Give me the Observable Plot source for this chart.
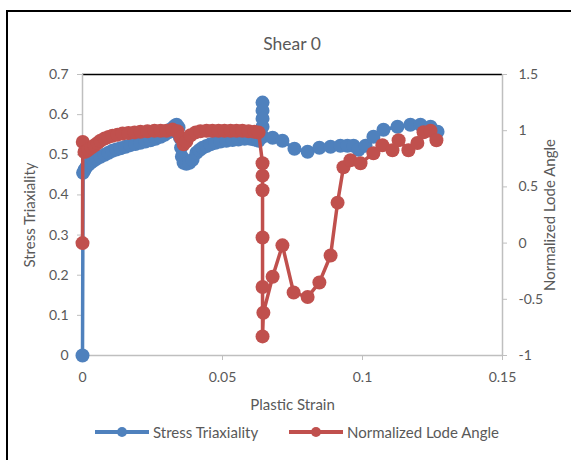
<!DOCTYPE html>
<html>
<head>
<meta charset="utf-8">
<script src="https://cdn.jsdelivr.net/npm/d3@7"></script>
<script src="https://cdn.jsdelivr.net/npm/@observablehq/plot@0.6"></script>
<style>
  html, body { margin: 0; padding: 0; background: #fff; overflow: hidden; }
  #chart { position: relative; width: 571px; height: 460px; font-family: Lato, "Open Sans", sans-serif; color: #595959; overflow: hidden; }
  #frame { position: absolute; left: 6px; top: 10px; width: 620px; height: 520px; border-left: 2px solid #000; border-top: 2px solid #000; }
  #plot { position: absolute; left: 0; top: 0; }
  #plot g[aria-label$="axis label"] text { font-size: 15px; }
  #title { position: absolute; left: 0; width: 584px; top: 33px; text-align: center; font-size: 17.5px; }
  .item { position: absolute; top: 424px; height: 16px; display: flex; align-items: center; font-size: 15px; white-space: nowrap; }
  .item svg { margin-right: 4px; }
</style>
</head>
<body>
<div id="chart">
  <div id="frame"></div>
  <div id="plot"></div>
  <div id="title">Shear 0</div>
  <div id="legend"></div>
</div>
<script>
// Stress triaxiality against plastic strain
const triaxStrain = [0, 0.0002, 0.0007, 0.0014, 0.0021, 0.0029, 0.0039, 0.005, 0.0064, 0.0079, 0.0093, 0.0107, 0.0121, 0.0136, 0.0154, 0.0171, 0.0189, 0.0207, 0.0225, 0.0243, 0.0261, 0.0279, 0.0293, 0.0307, 0.0318, 0.0329, 0.0336, 0.0343, 0.0348, 0.0352, 0.0355, 0.0361, 0.0371, 0.0382, 0.0393, 0.0407, 0.0418, 0.0429, 0.0443, 0.0457, 0.0475, 0.0493, 0.0514, 0.0536, 0.0557, 0.0579, 0.06, 0.0614, 0.0629, 0.0643, 0.0643, 0.0643, 0.0643, 0.0644, 0.0679, 0.0714, 0.0757, 0.0804, 0.0846, 0.0886, 0.0921, 0.0946, 0.0968, 0.0986, 0.1011, 0.1039, 0.1075, 0.1125, 0.1171, 0.1207, 0.1243, 0.1268];
const triaxValues = [0, 0.455, 0.462, 0.47, 0.475, 0.48, 0.485, 0.49, 0.495, 0.5, 0.505, 0.51, 0.513, 0.516, 0.52, 0.524, 0.527, 0.53, 0.533, 0.536, 0.54, 0.545, 0.55, 0.556, 0.565, 0.572, 0.575, 0.568, 0.5425, 0.5175, 0.495, 0.48, 0.4775, 0.48, 0.4875, 0.505, 0.512, 0.5175, 0.522, 0.526, 0.53, 0.533, 0.535, 0.537, 0.538, 0.54, 0.54, 0.538, 0.535, 0.63, 0.61, 0.59, 0.57, 0.545, 0.5425, 0.535, 0.515, 0.5075, 0.5175, 0.52, 0.5225, 0.5225, 0.5225, 0.5125, 0.5225, 0.545, 0.5625, 0.57, 0.575, 0.575, 0.57, 0.5575];

// Normalized Lode angle against plastic strain
const lodeStrain = [0, 0.0001, 0.0007, 0.0014, 0.0021, 0.0032, 0.0043, 0.0054, 0.0064, 0.0079, 0.0093, 0.0107, 0.0125, 0.0143, 0.0164, 0.0186, 0.0207, 0.0232, 0.0257, 0.0279, 0.03, 0.0321, 0.0339, 0.035, 0.0361, 0.0371, 0.0386, 0.0404, 0.0421, 0.0443, 0.0464, 0.0486, 0.0507, 0.0529, 0.055, 0.0571, 0.0593, 0.0614, 0.0629, 0.0643, 0.0643, 0.0643, 0.0643, 0.0643, 0.0643, 0.0646, 0.0679, 0.0714, 0.0754, 0.0804, 0.0846, 0.0886, 0.0911, 0.0932, 0.0957, 0.0993, 0.1039, 0.1071, 0.1107, 0.1129, 0.1164, 0.1196, 0.1218, 0.1243, 0.1264];
const lodeValues = [0, 0.9, 0.81, 0.82, 0.83, 0.85, 0.87, 0.89, 0.91, 0.93, 0.945, 0.955, 0.965, 0.975, 0.98, 0.985, 0.99, 0.995, 1.0, 1.0, 1.0, 1.01, 0.995, 0.94, 0.88, 0.905, 0.96, 0.985, 0.995, 1.0, 1.0, 1.0, 1.0, 1.0, 1.0, 1.0, 0.995, 0.99, 0.985, 0.71, 0.6, 0.47, 0.05, -0.39, -0.83, -0.62, -0.30, -0.02, -0.44, -0.48, -0.35, -0.11, 0.36, 0.675, 0.737, 0.71, 0.80, 0.87, 0.826, 0.915, 0.826, 0.89, 0.986, 1.0, 0.915];

// Axis ticks
const strainTicks = [0, 0.05, 0.1, 0.15];
const triaxTicks = [0, 0.1, 0.2, 0.3, 0.4, 0.5, 0.6, 0.7];
const lodeTicks = [-1, -0.5, 0, 0.5, 1, 1.5];

const seriesNames = ["Stress Triaxiality", "Normalized Lode Angle"];
const seriesColors = ["#4f81bd", "#c0504d"];

// Lode angle shares the left scale through a linear map of the secondary axis
const tMin = triaxTicks[0], tMax = triaxTicks[triaxTicks.length - 1];
const lMin = lodeTicks[0], lMax = lodeTicks[lodeTicks.length - 1];
const toLeft = v => tMin + (v - lMin) * (tMax - tMin) / (lMax - lMin);
const fromLeft = y => lMin + (y - tMin) * (lMax - lMin) / (tMax - tMin);
const fmt = v => String(Math.round(v * 100) / 100);

const triax = triaxStrain.map((x, i) => ({x, y: triaxValues[i]}));
const lode = lodeStrain.map((x, i) => ({x, y: toLeft(lodeValues[i])}));

const axisGray = "#bfbfbf";
const textGray = "#595959";

const chart = Plot.plot({
  width: 571,
  height: 460,
  marginLeft: 82,
  marginRight: 69,
  marginTop: 74,
  marginBottom: 105,
  style: {fontFamily: "Lato, 'Open Sans', sans-serif", fontSize: "14px", color: textGray, background: "transparent", overflow: "visible"},
  x: {domain: [strainTicks[0], strainTicks[strainTicks.length - 1]]},
  y: {domain: [tMin, tMax]},
  marks: [
    Plot.ruleY([tMax], {stroke: "#000", strokeWidth: 1.6}),
    Plot.ruleY([tMin], {stroke: axisGray, strokeWidth: 1.5}),
    Plot.ruleX([strainTicks[0]], {stroke: axisGray, strokeWidth: 1.5}),
    Plot.ruleX([strainTicks[strainTicks.length - 1]], {stroke: axisGray, strokeWidth: 1.5}),
    Plot.axisX({ticks: strainTicks, tickSize: 5, tickPadding: 12, tickFormat: fmt, stroke: axisGray, fill: textGray,
      label: "Plastic Strain", labelAnchor: "center", labelArrow: "none", labelOffset: 54}),
    Plot.axisY({ticks: triaxTicks, anchor: "left", tickSize: 5, tickPadding: 9, tickFormat: fmt, stroke: axisGray, fill: textGray,
      label: seriesNames[0], labelAnchor: "center", labelArrow: "none", labelOffset: 58}),
    Plot.axisY({ticks: lodeTicks.map(toLeft), anchor: "right", tickSize: 4, tickPadding: 12, tickFormat: d => fmt(fromLeft(d)), stroke: axisGray, fill: textGray,
      label: seriesNames[1], labelAnchor: "center", labelArrow: "none", labelOffset: 52}),
    Plot.line(triax, {x: "x", y: "y", stroke: seriesColors[0], strokeWidth: 3.5}),
    Plot.dot(triax, {x: "x", y: "y", r: 7, fill: seriesColors[0], stroke: "none"}),
    Plot.line(lode, {x: "x", y: "y", stroke: seriesColors[1], strokeWidth: 3.5}),
    Plot.dot(lode, {x: "x", y: "y", r: 7, fill: seriesColors[1], stroke: "none"})
  ]
});
document.getElementById("plot").appendChild(chart);

// Legend: line-with-marker swatch followed by the series name
const legend = document.getElementById("legend");
const legendLeft = [95, 289];
seriesNames.forEach((name, i) => {
  const item = document.createElement("div");
  item.className = "item";
  item.style.left = legendLeft[i] + "px";
  item.innerHTML = `<svg width="54" height="12"><line x1="0" y1="6" x2="54" y2="6" stroke="${seriesColors[i]}" stroke-width="4"/><circle cx="27" cy="6" r="5" fill="${seriesColors[i]}"/></svg><span>${name}</span>`;
  legend.appendChild(item);
});
</script>
</body>
</html>
